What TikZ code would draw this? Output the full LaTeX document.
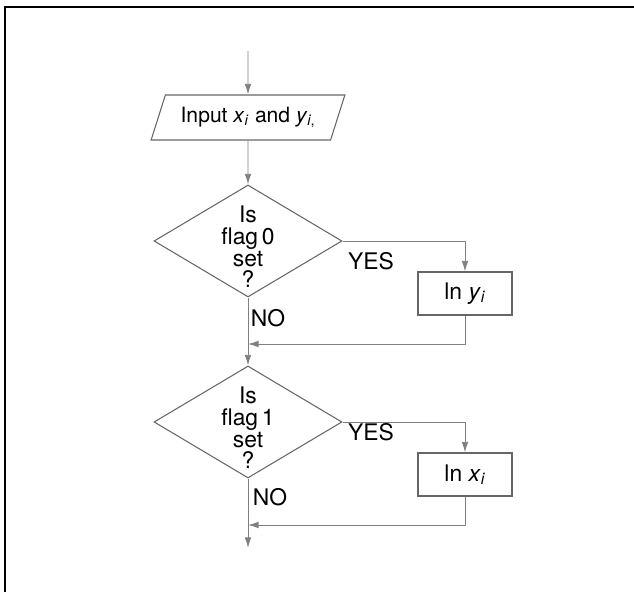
\documentclass[tikz,border=0pt]{standalone}
\usepackage{fontspec}
\setmainfont{TeX Gyre Heros}
\usetikzlibrary{shapes.geometric, arrows.meta, positioning}

\begin{document}
\begin{tikzpicture}[
    x=0.03cm, y=-0.03cm,
    font=\fontsize{19.5}{18.5}\selectfont,
    io/.style={trapezium, trapezium left angle=61, trapezium right angle=119, trapezium stretches=true, draw=black!60, line width=0.9pt, minimum width=5.82cm, minimum height=1.35cm, inner sep=0pt, font=\fontsize{18}{18.5}\selectfont},
    decision/.style={diamond, draw=black!60, line width=0.9pt, minimum width=5.64cm, minimum height=3.36cm, inner sep=0pt},
    block/.style={rectangle, draw=black!60, line width=0.9pt, minimum width=2.82cm, minimum height=1.29cm, inner sep=0pt},
    arrow/.style={-{Latex[length=3.2mm,width=2mm]}, draw=black!50, line width=0.8pt},
    answer/.style={align=center, inner sep=0pt}
  ]

  \useasboundingbox (0,0) rectangle (634,592);

  % Marco
  \draw[line width=2.2pt] (5,600) |- (640,7);

  % Entrada y decisiones
  \coordinate (start) at (248,51);
  \node[io] (input) at (248,117.5) {Input \textit{x}\textsubscript{\textit{i}} and \textit{y}\textsubscript{\textit{i},}};
  \node[decision, label={[answer, yshift=-5pt]center:Is\\flag\,0\\set\\?}] (flag0) at (248,241) {};
  \node[decision, label={[answer, yshift=-5pt]center:Is\\flag\,1\\set\\?}] (flag1) at (248,422) {};

  % Bloques de la rama YES
  \node[block] (lny) at (465,293.5) {ln \textit{y}\textsubscript{\textit{i}}};
  \node[block] (lnx) at (465,474.5) {ln \textit{x}\textsubscript{\textit{i}}};

  % Puntos de union y salida
  \coordinate (join0) at (248,344);
  \coordinate (join1) at (248,525);
  \coordinate (stop) at (248,548);

  % Flechas
  \draw[arrow] (start) -- (input);
  \draw[arrow] (input) -- (flag0);
  \draw[arrow] (flag0) -- (flag1);
  \draw[arrow] (flag0.east) -| (lny.north);
  \draw[arrow] (lny.south) |- (join0);
  \draw[arrow] (flag1) -- (stop);
  \draw[arrow] (flag1.east) -| (lnx.north);
  \draw[arrow] (lnx.south) |- (join1);

  % Etiquetas YES / NO
  \node[answer] (yes0) at (371,261) {YES};
  \node[answer] (no0) at (268,318) {NO};
  \node[answer] (yes1) at (371,432) {YES};
  \node[answer] (no1) at (270,497) {NO};
\end{tikzpicture}
\end{document}
